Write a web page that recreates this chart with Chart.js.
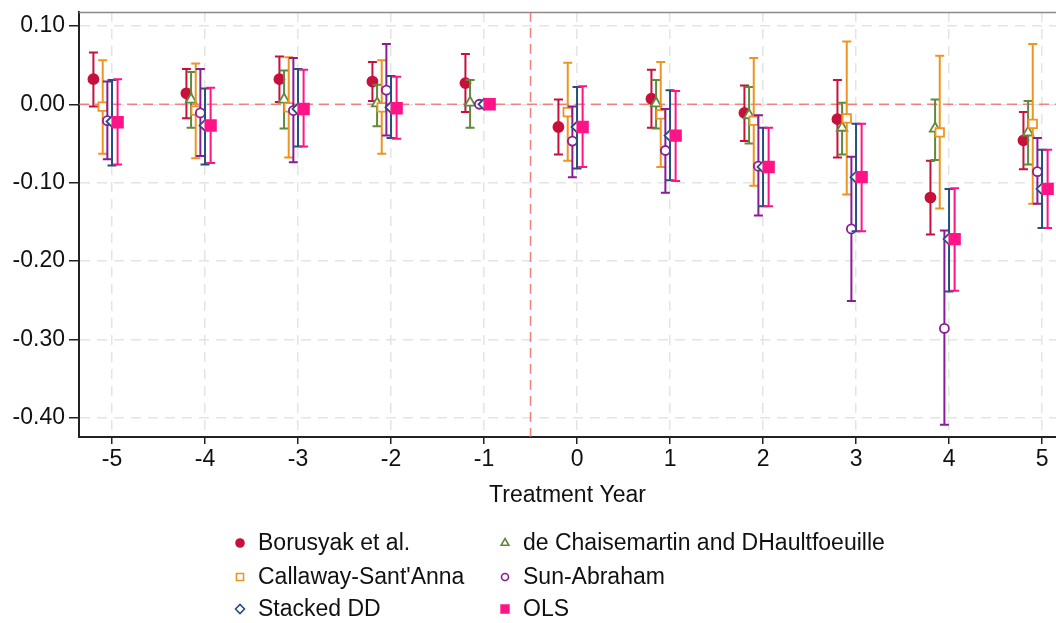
<!DOCTYPE html>
<html>
<head>
<meta charset="utf-8">
<title>Event study estimates</title>
<script src="https://cdn.jsdelivr.net/npm/chart.js@4.4.1/dist/chart.umd.min.js"></script>
<style>
  html, body { margin: 0; padding: 0; background: #fff; }
  #wrap { width: 1056px; height: 623px; }
</style>
</head>
<body>
<div id="wrap"><canvas id="chart" width="1056" height="623"></canvas></div>
<script>
// event time and axis ticks
const years = [-5, -4, -3, -2, -1, 0, 1, 2, 3, 4, 5];
const yTicks = [0.10, 0.00, -0.10, -0.20, -0.30, -0.40];

// estimator names, in legend order
const seriesNames = ['Borusyak et al.', 'de Chaisemartin and DHaultfoeuille', "Callaway-Sant'Anna",
  'Sun-Abraham', 'Stacked DD', 'OLS'];

// point estimates and 95% CI bounds (null = not estimated)
const borusyakCoef = [0.032, 0.014, 0.032, 0.029, 0.027, -0.029, 0.007, -0.011, -0.019, -0.119, -0.046];
const borusyakLo   = [-0.003, -0.018, 0.003, 0.004, -0.010, -0.064, -0.030, -0.047, -0.068, -0.166, -0.083];
const borusyakHi   = [0.066, 0.045, 0.061, 0.054, 0.064, 0.006, 0.044, 0.024, 0.031, -0.072, -0.010];

const dcdhCoef = [null, 0.006, 0.006, 0.001, 0.002, null, 0.001, -0.014, -0.030, -0.031, -0.036];
const dcdhLo   = [null, -0.030, -0.031, -0.028, -0.030, null, -0.031, -0.050, -0.064, -0.071, -0.077];
const dcdhHi   = [null, 0.041, 0.043, 0.025, 0.031, null, 0.031, 0.022, 0.002, 0.006, 0.004];

const csCoef = [-0.003, -0.008, -0.004, -0.004, null, -0.010, -0.013, -0.021, -0.018, -0.036, -0.025];
const csLo   = [-0.063, -0.069, -0.068, -0.063, null, -0.072, -0.080, -0.104, -0.115, -0.133, -0.127];
const csHi   = [0.056, 0.052, 0.060, 0.056, null, 0.053, 0.054, 0.059, 0.080, 0.062, 0.077];

const saCoef = [-0.021, -0.011, -0.008, 0.018, 0.000, -0.047, -0.059, -0.079, -0.159, -0.286, -0.086];
const saLo   = [-0.070, -0.066, -0.074, -0.040, 0.000, -0.093, -0.113, -0.142, -0.251, -0.409, -0.127];
const saHi   = [0.029, 0.045, 0.059, 0.077, 0.000, -0.003, -0.006, -0.014, -0.067, -0.161, -0.043];

const stackedCoef = [-0.022, -0.027, -0.006, -0.004, 0.000, -0.029, -0.040, -0.080, -0.093, -0.172, -0.108];
const stackedLo   = [-0.078, -0.077, -0.054, -0.043, 0.000, -0.082, -0.097, -0.130, -0.162, -0.239, -0.158];
const stackedHi   = [0.031, 0.020, 0.045, 0.036, 0.000, 0.022, 0.018, -0.030, -0.025, -0.108, -0.058];

const olsCoef = [-0.023, -0.027, -0.006, -0.005, 0.000, -0.029, -0.040, -0.080, -0.093, -0.172, -0.108];
const olsLo   = [-0.077, -0.075, -0.054, -0.044, 0.000, -0.080, -0.098, -0.130, -0.162, -0.238, -0.158];
const olsHi   = [0.032, 0.021, 0.044, 0.035, 0.000, 0.023, 0.017, -0.030, -0.025, -0.107, -0.058];

const FONT = '"Liberation Sans", Arial, sans-serif';

// marker look + horizontal dodge for each estimator
const styles = [
  { color: '#c8103c', fill: '#c8103c', pointStyle: 'circle', radius: 5, dodge: -0.2, legendR: 4 },
  { color: '#5e8a3a', fill: '#ffffff', pointStyle: 'triangle', radius: 6, dodge: -0.15, legendR: 4.5 },
  { color: '#ee9420', fill: '#ffffff', pointStyle: 'rect', radius: 6, dodge: -0.1, legendR: 5 },
  { color: '#8a1c98', fill: '#ffffff', pointStyle: 'circle', radius: 4.5, dodge: -0.05, legendR: 3.5 },
  { color: '#24507e', fill: '#ffffff', pointStyle: 'rectRot', radius: 5.5, dodge: 0, legendR: 4.5 },
  { color: '#ff1487', fill: '#ff1487', pointStyle: 'rect', radius: 7.5, dodge: 0.06, legendR: 5.5 }
];

const estimates = [
  [borusyakCoef, borusyakLo, borusyakHi],
  [dcdhCoef, dcdhLo, dcdhHi],
  [csCoef, csLo, csHi],
  [saCoef, saLo, saHi],
  [stackedCoef, stackedLo, stackedHi],
  [olsCoef, olsLo, olsHi]
];

const datasets = estimates.map(([coef, lo, hi], k) => {
  const s = styles[k];
  const pts = [];
  years.forEach((yr, i) => {
    if (coef[i] === null) return;
    pts.push({ x: yr + s.dodge, y: coef[i], lo: lo[i], hi: hi[i] });
  });
  return {
    label: seriesNames[k],
    data: pts,
    borderColor: s.color,
    backgroundColor: s.fill,
    pointStyle: s.pointStyle,
    pointRadius: s.radius,
    pointHoverRadius: s.radius,
    pointBorderWidth: 1.8,
    showLine: false,
    clip: false,
    order: styles.length - k   // later series sit on top
  };
});

// dashed reference lines at y = 0 and between -1 and 0, plus the top frame
const refLines = {
  id: 'refLines',
  beforeDatasetsDraw(chart) {
    const { ctx, chartArea: a, scales: { x, y } } = chart;
    ctx.save();
    ctx.strokeStyle = '#8a8a8a';
    ctx.lineWidth = 1.5;
    ctx.beginPath();
    ctx.moveTo(a.left, a.top + 0.5);
    ctx.lineTo(a.right, a.top + 0.5);
    ctx.stroke();

    ctx.setLineDash([10, 6]);
    ctx.strokeStyle = 'rgba(240, 100, 100, 0.8)';
    ctx.lineWidth = 1.6;
    const y0 = y.getPixelForValue(0);
    ctx.beginPath();
    ctx.moveTo(a.left, y0);
    ctx.lineTo(a.right, y0);
    ctx.stroke();
    const xv = x.getPixelForValue(-0.5);
    ctx.beginPath();
    ctx.moveTo(xv, a.top);
    ctx.lineTo(xv, a.bottom);
    ctx.stroke();
    ctx.restore();
  }
};

// capped CI whiskers, drawn just under each series' markers
const errorBars = {
  id: 'errorBars',
  beforeDatasetDraw(chart, args) {
    const { ctx, scales: { x, y } } = chart;
    const ds = chart.data.datasets[args.index];
    const cap = 4.5;
    ctx.save();
    ctx.strokeStyle = ds.borderColor;
    ctx.lineWidth = 2;
    ds.data.forEach(p => {
      if (p.lo === p.hi) return;
      const px = x.getPixelForValue(p.x);
      const pTop = y.getPixelForValue(p.hi);
      const pBot = y.getPixelForValue(p.lo);
      ctx.beginPath();
      ctx.moveTo(px, pTop);
      ctx.lineTo(px, pBot);
      ctx.moveTo(px - cap, pTop);
      ctx.lineTo(px + cap, pTop);
      ctx.moveTo(px - cap, pBot);
      ctx.lineTo(px + cap, pBot);
      ctx.stroke();
    });
    ctx.restore();
  }
};

// two-column legend under the axis title
const gridLegend = {
  id: 'gridLegend',
  afterDraw(chart) {
    const { ctx } = chart;
    const colX = [240, 505];
    const rowY = [543, 577, 609];
    ctx.save();
    ctx.font = '23px ' + FONT;
    ctx.textBaseline = 'middle';
    chart.data.datasets.forEach((ds, k) => {
      const s = styles[k];
      const cx = colX[k % 2];
      const cy = rowY[Math.floor(k / 2)];
      ctx.fillStyle = s.fill;
      ctx.strokeStyle = s.color;
      ctx.lineWidth = 1.6;
      Chart.helpers.drawPoint(ctx, { pointStyle: s.pointStyle, radius: s.legendR, rotation: 0, borderWidth: 1.6 }, cx, cy);
      ctx.fillStyle = '#111';
      ctx.fillText(ds.label, cx + 18, cy + 1);
    });
    ctx.restore();
  }
};

new Chart(document.getElementById('chart'), {
  type: 'scatter',
  data: { datasets },
  plugins: [refLines, errorBars, gridLegend],
  options: {
    responsive: false,
    animation: false,
    events: [],
    layout: { autoPadding: false, padding: { top: 12, right: 0, left: 0, bottom: 114 } },
    plugins: { legend: { display: false }, tooltip: { enabled: false } },
    scales: {
      x: {
        type: 'linear',
        min: -5.355,
        max: 5.15,
        afterBuildTicks: s => { s.ticks = years.map(v => ({ value: v })); },
        afterFit: s => { s.height = 72; s.paddingLeft = 0; s.paddingRight = 0; },
        ticks: { color: '#111', font: { family: FONT, size: 23 }, padding: 2, callback: v => String(v) },
        grid: { color: '#e4e4e4', lineWidth: 1.5, tickColor: '#222', tickLength: 7, tickWidth: 1.5 },
        border: { color: '#222', width: 2, dash: [10, 7] },
        title: { display: true, text: 'Treatment Year', color: '#111', font: { family: FONT, size: 23 }, padding: { top: 0, bottom: 0 } }
      },
      y: {
        min: -0.4245,
        max: 0.1177,
        afterBuildTicks: s => { s.ticks = yTicks.map(v => ({ value: v })); },
        afterFit: s => { s.width = 79; s.paddingTop = 0; s.paddingBottom = 0; },
        ticks: { color: '#111', font: { family: FONT, size: 23 }, padding: 4, callback: v => v.toFixed(2) },
        grid: { color: '#e4e4e4', lineWidth: 1.5, tickColor: '#222', tickLength: 10, tickWidth: 1.5 },
        border: { color: '#222', width: 2, dash: [10, 7] }
      }
    }
  }
});
</script>
</body>
</html>
